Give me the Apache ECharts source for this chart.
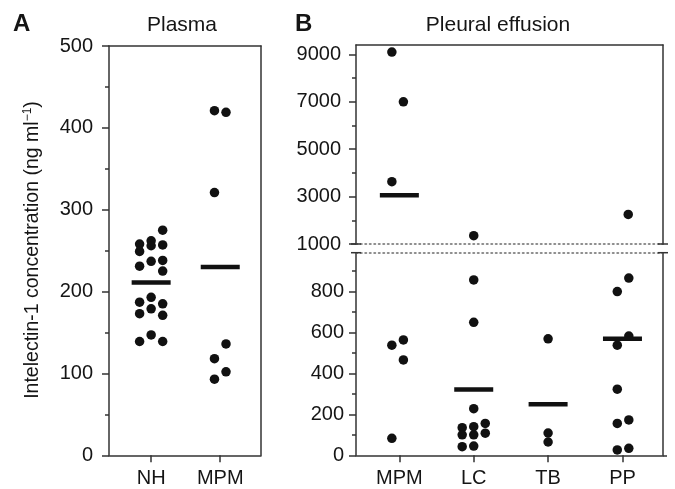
<!DOCTYPE html>
<html><head><meta charset="utf-8">
<script src="https://cdn.jsdelivr.net/npm/echarts@6/dist/echarts.min.js"></script>
<style>html,body{margin:0;padding:0;background:#fff}#c{width:675px;height:489px}</style>
</head><body><div id="c"></div>
<script>
// ---------------- data ----------------
const plasmaCats = ['NH', 'MPM'];
const plasmaNH = [275, 258, 249, 262, 256, 257, 231, 237, 238, 225, 193, 187, 185, 179, 173, 171, 147, 139, 139];
const plasmaNHCol = [1, -1, -1, 0, 0, 1, -1, 0, 1, 1, 0, -1, 1, 0, -1, 1, 0, -1, 1];
const plasmaMPM = [421, 419, 321, 136, 118, 102, 93];
const plasmaMPMCol = [-0.5, 0.5, -0.5, 0.5, -0.5, 0.5, -0.5];
const plasmaMeans = [211, 230];
const plasmaTicks = [0, 100, 200, 300, 400, 500];

const pleuralCats = ['MPM', 'LC', 'TB', 'PP'];
const pleuralMPM = [9100, 7000, 3630, 564, 538, 466, 83];
const pleuralMPMCol = [-0.65, 0.35, -0.65, 0.35, -0.65, 0.35, -0.65];
const pleuralLC = [1350, 857, 650, 228, 135, 140, 156, 100, 100, 108, 42, 45];
const pleuralLCCol = [0, 0, 0, 0, -1, 0, 1, -1, 0, 1, -1, 0];
const pleuralTB = [569, 109, 65];
const pleuralTBCol = [0, 0, 0];
const pleuralPP = [2250, 866, 800, 583, 538, 323, 173, 156, 34, 26];
const pleuralPPCol = [0.5, 0.55, -0.45, 0.55, -0.45, -0.45, 0.55, -0.45, 0.55, -0.45];
const pleuralMeans = [3054, 322, 249, 570];
const upperTicks = [1000, 3000, 5000, 7000, 9000];
const lowerTicks = [0, 200, 400, 600, 800];
const breakValue = 1000;

// ---------------- styling / layout ----------------
const FONT = '"Liberation Sans", Arial, Helvetica, sans-serif';
const INK = '#151515';
const AXIS = '#333333';
const A_X = [-0.61, 1.59], B_X = [-0.583, 3.545];
const A_Y = [0, 500], UP_Y = [1000, 9400], LOW_Y = [0, 990];
const SLOT_A = 0.167, SLOT_B = 0.155;
const DOT = 9.5, MEAN = [39, 4.5];

function minorOf(majors, max) {
  const step = majors[1] - majors[0];
  return majors.map(v => v + step / 2).filter(v => v < max);
}
function pts(values, cols, idx, slot, keep) {
  return values.map((v, i) => [idx + cols[i] * slot, v]).filter(p => keep(p[1]));
}
const all = () => true, hi = v => v >= breakValue, lo = v => v < breakValue;

const groupsB = [[pleuralMPM, pleuralMPMCol], [pleuralLC, pleuralLCCol], [pleuralTB, pleuralTBCol], [pleuralPP, pleuralPPCol]];
const dotsA = [].concat(pts(plasmaNH, plasmaNHCol, 0, SLOT_A, all), pts(plasmaMPM, plasmaMPMCol, 1, SLOT_A, all));
const meansA = plasmaMeans.map((m, i) => [i, m]);
let dotsUp = [], dotsLow = [];
groupsB.forEach((g, i) => {
  dotsUp = dotsUp.concat(pts(g[0], g[1], i, SLOT_B, hi));
  dotsLow = dotsLow.concat(pts(g[0], g[1], i, SLOT_B, lo));
});
const meansUp = pleuralMeans.map((m, i) => [i, m]).filter(p => hi(p[1]));
const meansLow = pleuralMeans.map((m, i) => [i, m]).filter(p => lo(p[1]));

const lineS = { color: AXIS, width: 1.5 };
const lbl = { color: INK, fontSize: 20, fontFamily: FONT };

function frameX(grid, pos, range, dotted) {
  return { type: 'value', gridIndex: grid, position: pos, min: range[0], max: range[1],
    axisLine: { show: true, onZero: false, lineStyle: dotted ? { color: '#6a6a6a', width: 1.5, type: [1.5, 3] } : lineS },
    axisTick: { show: false }, axisLabel: { show: false }, splitLine: { show: false } };
}
function catX(grid, range, cats) {
  const vals = cats.map((c, i) => i);
  return { type: 'value', gridIndex: grid, position: 'bottom', min: range[0], max: range[1],
    axisLine: { show: true, onZero: false, lineStyle: lineS },
    axisTick: { show: true, length: 7, lineStyle: lineS, customValues: vals },
    axisLabel: Object.assign({ show: true, margin: 13, customValues: vals, formatter: v => cats[Math.round(v)] }, lbl),
    splitLine: { show: false } };
}
function majorY(grid, range, ticks, margin) {
  return { type: 'value', gridIndex: grid, position: 'left', min: range[0], max: range[1],
    axisLine: { show: true, onZero: false, lineStyle: lineS },
    axisTick: { show: true, length: 7, lineStyle: lineS, customValues: ticks },
    axisLabel: Object.assign({ show: true, margin: margin, customValues: ticks, formatter: v => String(v) }, lbl),
    splitLine: { show: false } };
}
function minorY(grid, range, ticks) {
  return { type: 'value', gridIndex: grid, position: 'left', min: range[0], max: range[1],
    axisLine: { show: false, onZero: false },
    axisTick: { show: true, length: 4, lineStyle: lineS, customValues: minorOf(ticks, range[1]) },
    axisLabel: { show: false }, splitLine: { show: false } };
}
function rightY(grid, range, tickVals) {
  return { type: 'value', gridIndex: grid, position: 'right', min: range[0], max: range[1],
    axisLine: { show: true, onZero: false, lineStyle: lineS },
    axisTick: { show: !!tickVals, length: 4, lineStyle: lineS, customValues: tickVals || [] },
    axisLabel: { show: false }, splitLine: { show: false } };
}
function dotSeries(x, y, data) {
  return { type: 'scatter', xAxisIndex: x, yAxisIndex: y, data: data, symbol: 'circle', symbolSize: DOT,
    itemStyle: { color: '#111', opacity: 1 }, silent: true, animation: false };
}
function meanSeries(x, y, data) {
  return { type: 'scatter', xAxisIndex: x, yAxisIndex: y, data: data, symbol: 'rect', symbolSize: MEAN,
    itemStyle: { color: '#111', opacity: 1 }, silent: true, animation: false, z: 3 };
}

const texts = [
  { id: 'tA', type: 'text', x: 13, y: 24, style: { text: 'A', fill: INK, font: 'bold 24px ' + FONT, align: 'left', verticalAlign: 'middle' } },
  { id: 'tB', type: 'text', x: 295, y: 24, style: { text: 'B', fill: INK, font: 'bold 24px ' + FONT, align: 'left', verticalAlign: 'middle' } },
  { id: 'tP', type: 'text', x: 182, y: 25, style: { text: 'Plasma', fill: INK, font: '21px ' + FONT, align: 'center', verticalAlign: 'middle' } },
  { id: 'tE', type: 'text', x: 498, y: 25, style: { text: 'Pleural effusion', fill: INK, font: '21px ' + FONT, align: 'center', verticalAlign: 'middle' } },
  { id: 'yT', type: 'text', x: 33, y: 250, rotation: Math.PI / 2,
    style: { text: '{a|Intelectin-1 concentration (ng ml}{s|−1}{a|)}', align: 'center', verticalAlign: 'middle',
      rich: { a: { fontSize: 19.5, fontFamily: FONT, fill: INK, color: INK, lineHeight: 22 },
              s: { fontSize: 12, fontFamily: FONT, fill: INK, color: INK, verticalAlign: 'top', lineHeight: 22 } } } }
];

const chart = echarts.init(document.getElementById('c'), null, { renderer: 'canvas' });
chart.setOption({
  animation: false,
  backgroundColor: '#fff',
  grid: [
    { left: 109, top: 46, width: 152, height: 409.3, containLabel: false },
    { left: 356, top: 45, width: 307, height: 199, containLabel: false },
    { left: 356, top: 252.7, width: 307, height: 202.6, containLabel: false }
  ],
  xAxis: [
    catX(0, A_X, plasmaCats),
    frameX(0, 'top', A_X, false),
    frameX(1, 'bottom', B_X, true),
    frameX(1, 'top', B_X, false),
    frameX(2, 'top', B_X, true),
    catX(2, B_X, pleuralCats)
  ],
  yAxis: [
    majorY(0, A_Y, plasmaTicks, 16),
    minorY(0, A_Y, plasmaTicks),
    rightY(0, A_Y, null),
    majorY(1, UP_Y, upperTicks, 15),
    minorY(1, UP_Y, upperTicks),
    rightY(1, UP_Y, null),
    majorY(2, LOW_Y, lowerTicks, 12),
    minorY(2, LOW_Y, lowerTicks),
    rightY(2, LOW_Y, [0])
  ],
  series: [
    dotSeries(0, 0, dotsA), meanSeries(0, 0, meansA),
    dotSeries(2, 3, dotsUp), meanSeries(2, 3, meansUp),
    dotSeries(5, 6, dotsLow), meanSeries(5, 6, meansLow)
  ],
  graphic: texts
});

// axis-break marks, placed from the axes' own scales
const yUp = chart.convertToPixel({ yAxisIndex: 3 }, breakValue);
const yLow = chart.convertToPixel({ yAxisIndex: 6 }, LOW_Y[1]);
const xL = chart.convertToPixel({ xAxisIndex: 2 }, B_X[0]);
const xR = chart.convertToPixel({ xAxisIndex: 2 }, B_X[1]);
const marks = [];
[yUp, yLow].forEach((y, k) => {
  [xL, xR].forEach((x, j) => {
    marks.push({ id: 'bk' + k + j, type: 'line', shape: { x1: x - 5, y1: y, x2: x + 5, y2: y },
      style: { stroke: AXIS, lineWidth: 1.5 }, z: 10 });
  });
});
chart.setOption({ graphic: texts.concat(marks) });
</script>
</body></html>
